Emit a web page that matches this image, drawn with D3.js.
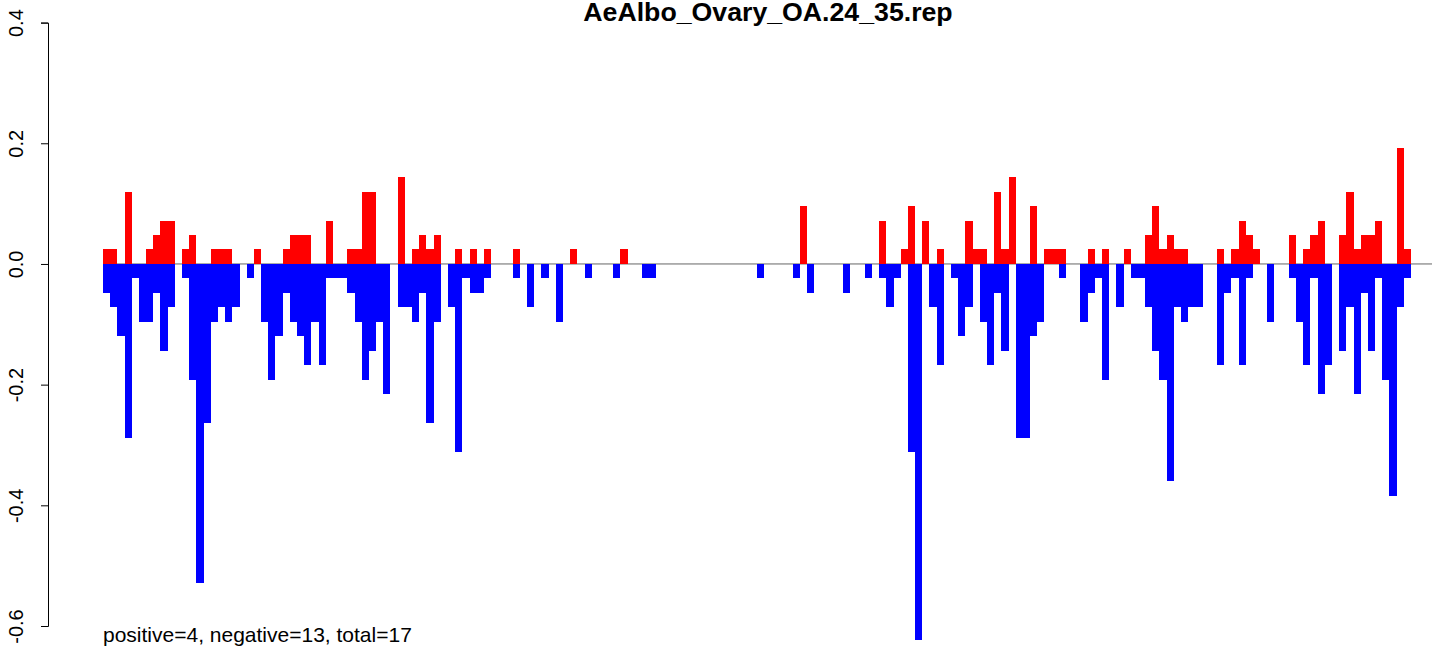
<!DOCTYPE html>
<html><head><meta charset="utf-8">
<script src="https://cdn.jsdelivr.net/npm/d3@7"></script>
<style>body{margin:0;background:#fff;overflow:hidden}</style>
</head><body>
<svg id="c" width="1441" height="651"></svg>
<script>
const title = "AeAlbo_Ovary_OA.24_35.rep";
const note = "positive=4, negative=13, total=17";
const yTicks = [-0.6, -0.4, -0.2, 0.0, 0.2, 0.4];
const positive = [
0.024,0.024,0,0.12,0,0,0.024,0.048,0.072,0.072,
0,0.024,0.048,0,0,0.024,0.024,0.024,0,0,
0,0.024,0,0,0,0.024,0.048,0.048,0.048,0,
0,0.072,0,0,0.024,0.024,0.12,0.12,0,0,
0,0.144,0,0.024,0.048,0.024,0.048,0,0,0.024,
0,0.024,0,0.024,0,0,0,0.024,0,0,
0,0,0,0,0,0.024,0,0,0,0,
0,0,0.024,0,0,0,0,0,0,0,
0,0,0,0,0,0,0,0,0,0,
0,0,0,0,0,0,0,0.096,0,0,
0,0,0,0,0,0,0,0,0.072,0,
0,0.024,0.096,0,0.072,0,0.024,0,0,0,
0.072,0.024,0.024,0,0.12,0.024,0.144,0,0,0.096,
0,0.024,0.024,0.024,0,0,0,0.024,0,0.024,
0,0,0.024,0,0,0.048,0.096,0.024,0.048,0.024,
0.024,0,0,0,0,0.024,0,0.024,0.072,0.048,
0.024,0,0,0,0,0.048,0,0.024,0.048,0.072,
0,0,0.048,0.12,0.024,0.048,0.048,0.072,0,0,
0.192,0.024];
const negative = [
-0.048,-0.072,-0.12,-0.288,-0.024,-0.096,-0.096,-0.048,-0.144,-0.072,
0,-0.024,-0.192,-0.528,-0.264,-0.096,-0.072,-0.096,-0.072,0,
-0.024,0,-0.096,-0.192,-0.12,-0.048,-0.096,-0.12,-0.168,-0.096,
-0.168,-0.024,-0.024,-0.024,-0.048,-0.096,-0.192,-0.144,-0.096,-0.216,
0,-0.072,-0.072,-0.096,-0.048,-0.264,-0.096,0,-0.072,-0.312,
-0.024,-0.048,-0.048,-0.024,0,0,0,-0.024,0,-0.072,
0,-0.024,0,-0.096,0,0,0,-0.024,0,0,
0,-0.024,0,0,0,-0.024,-0.024,0,0,0,
0,0,0,0,0,0,0,0,0,0,
0,-0.024,0,0,0,0,-0.024,0,-0.048,0,
0,0,0,-0.048,0,0,-0.024,0,-0.024,-0.072,
-0.024,0,-0.312,-0.624,0,-0.072,-0.168,0,-0.024,-0.12,
-0.072,0,-0.096,-0.168,-0.048,-0.144,0,-0.288,-0.288,-0.12,
-0.096,0,0,-0.024,0,0,-0.096,-0.048,-0.024,-0.192,
0,-0.072,0,-0.024,-0.024,-0.072,-0.144,-0.192,-0.36,-0.072,
-0.096,-0.072,-0.072,0,0,-0.168,-0.048,-0.024,-0.168,-0.024,
0,0,-0.096,0,0,-0.024,-0.096,-0.168,-0.024,-0.216,
-0.168,0,-0.144,-0.072,-0.216,-0.048,-0.144,-0.024,-0.192,-0.384,
-0.072,-0.024];
const bins = positive.map((d, i) => i);

const svg = d3.select("#c");
const x = d3.scaleBand().domain(bins).range([103, 1411]).padding(0);
const y = d3.scaleLinear().domain([-0.6, 0.4]).range([626, 22.6]);
const font = "Liberation Sans, Arial, sans-serif";

svg.append("line")
  .attr("x1", 103).attr("x2", 1432)
  .attr("y1", y(0)).attr("y2", y(0))
  .attr("stroke", "#666").attr("stroke-width", 1);

svg.append("g").selectAll("rect").data(negative).join("rect")
  .attr("x", (d, i) => x(i)).attr("width", x.bandwidth())
  .attr("y", y(0)).attr("height", d => y(d) - y(0))
  .attr("fill", "#0000ff").attr("shape-rendering", "crispEdges");

svg.append("g").selectAll("rect").data(positive).join("rect")
  .attr("x", (d, i) => x(i)).attr("width", x.bandwidth())
  .attr("y", d => y(d)).attr("height", d => y(0) - y(d))
  .attr("fill", "#ff0000").attr("shape-rendering", "crispEdges");

const axis = d3.axisLeft(y).tickValues(yTicks).tickSize(7).tickPadding(0)
  .tickFormat(d3.format(".1f"));
const g = svg.append("g").attr("transform", "translate(48,0)").call(axis);
g.select(".domain").attr("stroke", "#000");
g.selectAll(".tick line").attr("stroke", "#000");
g.selectAll(".tick text")
  .attr("font-family", font)
  .attr("font-size", 20).attr("fill", "#000")
  .attr("text-anchor", "middle")
  .attr("transform", "translate(-32,0) rotate(-90)")
  .attr("x", 0).attr("dy", "0.35em")
  .text(d => d3.format(".1f")(d).replace("−", "-"));

svg.append("text").attr("x", 768).attr("y", 21)
  .attr("text-anchor", "middle").attr("font-weight", "bold")
  .attr("font-family", font)
  .attr("font-size", 26.7).text(title);

svg.append("text").attr("x", 103).attr("y", 642)
  .attr("font-family", font)
  .attr("font-size", 21).text(note);
</script>
</body></html>
